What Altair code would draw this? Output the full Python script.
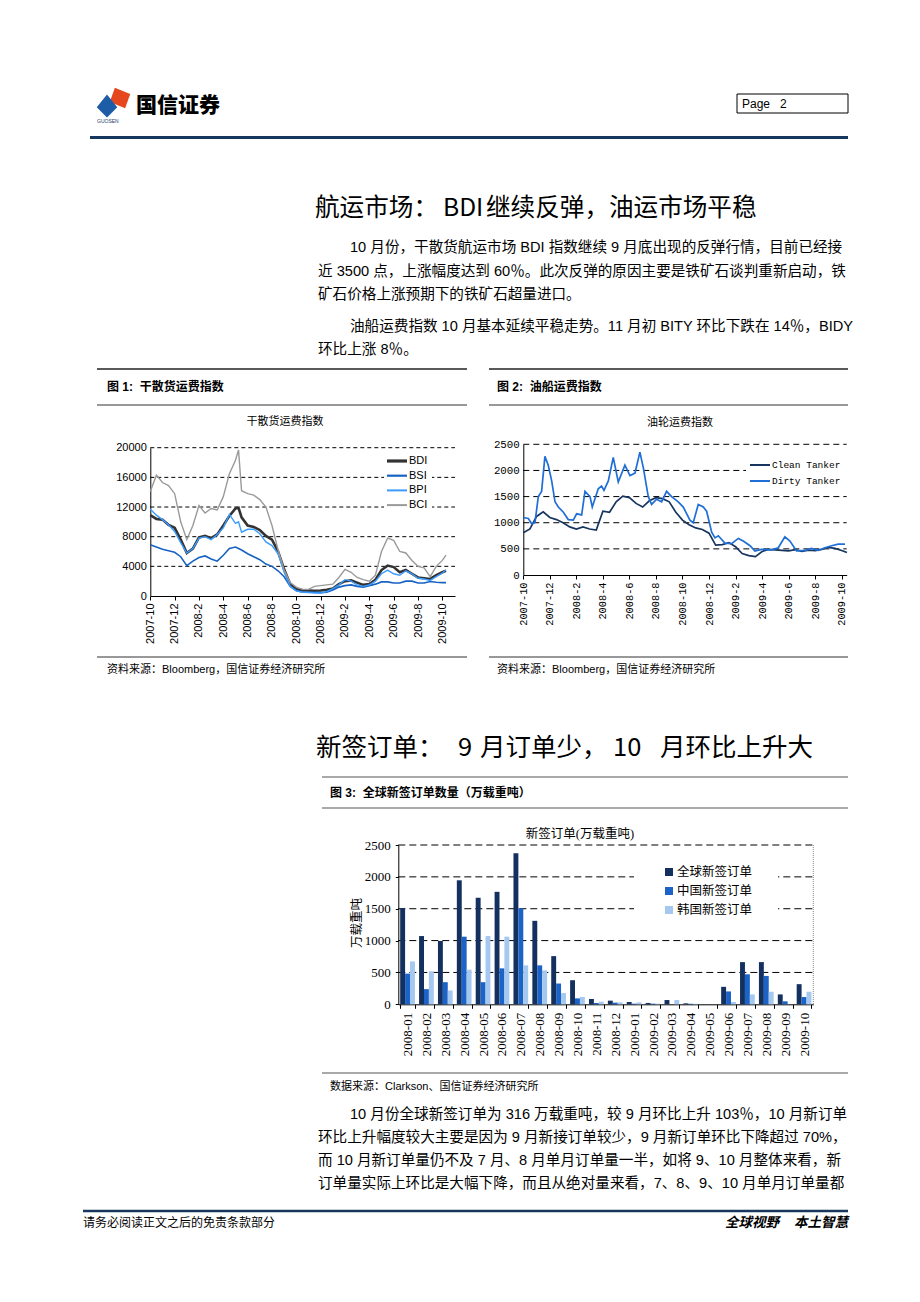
import altair as alt
import pandas as pd

# ---------------- data: figure 1 (dry bulk indices, month index from 2007-10) ----------------
dry_t = [0, 0.5, 1, 1.5, 2, 2.5, 3, 3.5, 4, 4.5, 5, 5.5, 6, 6.5, 7, 7.25, 7.5, 8, 8.5, 9, 9.5,
         10, 10.5, 11, 11.5, 12, 12.5, 13, 13.5, 14, 14.5, 15, 15.5, 16, 16.5, 17, 17.5, 18, 18.5,
         19, 19.5, 20, 20.5, 21, 21.5, 22, 22.5, 23, 23.5, 24, 24.3]
bdi = [10900, 10400, 10300, 9600, 9200, 7600, 5800, 6400, 7900, 8100, 7800, 8300, 9500, 10800, 11800, 11900, 10600,
       9500, 9300, 8900, 8100, 7600, 6000, 3600, 1600, 900, 800, 750, 700, 750, 850, 1000, 1600, 2000, 2100,
       1800, 1500, 1600, 2200, 3500, 4100, 3900, 3200, 3500, 3000, 2500, 2400, 2300, 2800, 3200, 3400]
bsi = [6900, 6600, 6300, 6100, 5900, 5300, 4100, 4700, 5200, 5400, 5000, 4700, 5500, 6400, 6600, 6400, 6200,
       5700, 5300, 4900, 4300, 4000, 3400, 2600, 1300, 700, 550, 500, 500, 450, 500, 800, 1200, 1400, 1500,
       1300, 1200, 1400, 1600, 1900, 1900, 1750, 1750, 2000, 2000, 1750, 1750, 1950, 1850, 1800, 1800]
bpi = [11700, 10900, 10300, 9600, 8700, 7200, 5800, 6400, 7800, 8000, 7600, 8300, 9200, 11000, 9800, 10000, 8600,
       9000, 9000, 8400, 7300, 6800, 5700, 3200, 1300, 700, 500, 450, 400, 400, 600, 1000, 1500, 2200, 2000,
       1500, 1300, 1500, 2000, 3000, 3500, 3000, 2800, 3400, 3000, 2400, 2300, 2100, 2600, 3100, 3500]
bci = [14100, 16300, 15300, 14900, 13800, 10000, 7600, 9500, 12200, 11200, 11800, 11600, 13400, 16500, 18300, 19700, 14200,
       13800, 13600, 13000, 12000, 9500, 6200, 3500, 1800, 1200, 900, 900, 1300, 1400, 1500, 1600, 2500, 3600, 3200,
       2500, 2200, 2000, 2800, 6000, 7800, 7500, 6000, 5800, 4800, 4000, 3800, 2600, 4000, 4800, 5500]
dry_names = ["BDI", "BSI", "BPI", "BCI"]
dry_colors = ["#333333", "#1763c4", "#3b9cff", "#9a9a9a"]
dry_widths = [2.6, 1.6, 1.4, 1.4]
dry_ticks = [0, 4000, 8000, 12000, 16000, 20000]

# ---------------- data: figure 2 (tanker indices) ----------------
clean_t = [0, 0.5, 1, 1.5, 2, 2.5, 3, 3.5, 4, 4.5, 5, 5.5, 6, 6.5, 7, 7.5, 8, 8.5, 9, 9.5, 10, 10.5,
           11, 11.5, 12, 12.5, 13, 13.5, 14, 14.5, 15, 15.5, 16, 16.5, 17, 17.5, 18, 18.5, 19, 19.5,
           20, 20.5, 21, 21.5, 22, 22.5, 23, 23.5, 24, 24.4]
clean = [810, 880, 1120, 1210, 1100, 1060, 1000, 920, 880, 920, 880, 860, 1220, 1200, 1400, 1510, 1480, 1370,
         1300, 1420, 1480, 1460, 1400, 1200, 1050, 960, 900, 870, 800, 570, 580, 620, 540, 410, 370, 350,
         450, 490, 480, 470, 460, 485, 450, 475, 465, 490, 530, 510, 470, 430]
dirty_t = [0, 0.38, 0.63, 0.88, 1.13, 1.38, 1.63, 1.88, 2.14, 2.39, 2.64, 3.02, 3.39, 3.77, 4.02, 4.4, 4.65,
           5.03, 5.2, 5.65, 5.9, 6.08, 6.41, 6.78, 7.16, 7.66, 8.04, 8.42, 8.79, 9.05, 9.42, 9.67, 10.05,
           10.43, 10.8, 11.18, 11.68, 12.06, 12.56, 12.81, 13.19, 13.57, 13.82, 14.2, 14.45, 14.7, 15.2,
           15.7, 16.21, 16.58, 17.09, 17.46, 17.96, 18.72, 19.22, 19.72, 20.1, 20.6, 21.23, 21.73, 22.24,
           22.74, 23.24, 23.74, 24.25]
dirty = [1100, 1080, 980, 1000, 1500, 1600, 2270, 2100, 1800, 1400, 1300, 1200, 1060, 1050, 1170, 1150, 1600,
         1500, 1300, 1650, 1700, 1620, 1800, 2250, 1780, 2100, 1900, 1950, 2350, 2050, 1500, 1350, 1450,
         1400, 1600, 1500, 1400, 1300, 1050, 1000, 1350, 1300, 1220, 820, 710, 750, 610,
         600, 700, 650, 560, 460, 490, 480, 520, 730, 650, 460, 470, 510, 470,
         520, 560, 590, 590]
tank_names = ["Clean Tanker", "Dirty Tanker"]
tank_colors = ["#17355f", "#1f6fd6"]
tank_ticks = [0, 500, 1000, 1500, 2000, 2500]
month_ticks = [0, 2, 4, 6, 8, 10, 12, 14, 16, 18, 20, 22, 24]

# ---------------- data: figure 3 (new orders, 万载重吨) ----------------
order_months = ["2008-01", "2008-02", "2008-03", "2008-04", "2008-05", "2008-06", "2008-07", "2008-08",
                "2008-09", "2008-10", "2008-11", "2008-12", "2009-01", "2009-02", "2009-03", "2009-04",
                "2009-05", "2009-06", "2009-07", "2009-08", "2009-09", "2009-10"]
order_global = [1510, 1071, 994, 1946, 1672, 1765, 2371, 1310, 756, 378, 83, 57, 36, 21, 67, 15, 0, 274, 662, 662, 155, 316]
order_china = [481, 238, 347, 1061, 347, 564, 1506, 611, 326, 93, 20, 26, 10, 10, 0, 8, 0, 202, 471, 445, 47, 114]
order_korea = [673, 518, 217, 543, 1071, 1061, 611, 533, 176, 114, 41, 31, 31, 10, 67, 8, 0, 36, 155, 197, 0, 197]
order_names = ["全球新签订单", "中国新签订单", "韩国新签订单"]
order_colors = ["#14305f", "#1b63c6", "#a4c8f0"]
order_ticks = [0, 500, 1000, 1500, 2000, 2500]

# ---------------- layout helpers ----------------
OX, OY = 8, 8
W, H = 904, 1286
CJK = "Liberation Sans, Noto Sans CJK SC"
SERIF = "Liberation Serif, Noto Sans CJK SC"
MONO = "Liberation Mono, Noto Sans CJK SC"
NAVY = "#17375e"
NB = "\u00a0"


def X(x):
    return x - OX


def Y(y):
    return y - OY


dummy = pd.DataFrame({"d": [0]})


def txt(x, y, s, size=12, font=CJK, weight="normal", align="left", baseline="middle",
        color="#000000", angle=None, style=None):
    kw = dict(text=s, fontSize=size, font=font, fontWeight=weight, align=align,
              baseline=baseline, color=color)
    if angle is not None:
        kw["angle"] = angle
    if style:
        kw["fontStyle"] = style
    return alt.Chart(dummy).mark_text(**kw).encode(x=alt.value(X(x)), y=alt.value(Y(y)))


def rule(x1, y1, x2, y2, color="#000000", w=1.0, dash=None):
    kw = dict(color=color, strokeWidth=w)
    if dash:
        kw["strokeDash"] = dash
    return alt.Chart(dummy).mark_rule(**kw).encode(
        x=alt.value(X(x1)), x2=alt.value(X(x2)), y=alt.value(Y(y1)), y2=alt.value(Y(y2)))


def box(x1, y1, x2, y2, fill="#ffffff", stroke=None, w=1.0):
    kw = dict(fill=fill)
    if stroke:
        kw["stroke"] = stroke
        kw["strokeWidth"] = w
    return alt.Chart(dummy).mark_rect(**kw).encode(
        x=alt.value(X(x1)), x2=alt.value(X(x2)), y=alt.value(Y(y1)), y2=alt.value(Y(y2)))


month_label = "(2007 + floor((datum.value + 9) / 12)) + '-' + ((datum.value + 9) % 12 + 1)"

# ---------------- figure 1 ----------------
c1L, c1R, c1T, c1B = 150.3, 455, 447.7, 596
sx1 = alt.Scale(domain=[0, 25.04], range=[X(c1L), X(c1R)], nice=False, zero=False)
sy1 = alt.Scale(domain=[0, 20000], range=[Y(c1B), Y(c1T)], nice=False)
ax1 = alt.Axis(orient="bottom", offset=Y(c1B) - H, values=month_ticks, labelExpr=month_label,
               labelAngle=270, labelAlign="right", labelBaseline="middle", labelFont="Liberation Sans",
               labelFontSize=11, labelColor="#000", labelPadding=3, domainColor="#000", tickColor="#000",
               tickSize=4, grid=False, title=None, labelOverlap=False)
ay1 = alt.Axis(orient="left", offset=-X(c1L), values=dry_ticks, format="d", labelFont="Liberation Sans",
               labelFontSize=11, labelColor="#000", labelPadding=4, domainColor="#000", tickSize=0,
               grid=False, title=None, labelOverlap=False)
EX1 = alt.X("t:Q", scale=sx1, axis=ax1)
EY1 = alt.Y("v:Q", scale=sy1, axis=ay1)

grid1 = alt.Chart(pd.DataFrame({"v": dry_ticks[1:]})).mark_rule(
    color="#000", strokeWidth=1, strokeDash=[4, 3]).encode(
    y=EY1, x=alt.value(X(c1L)), x2=alt.value(X(c1R)))
c1_layers = [grid1, box(384, 452, 432, 513)]
for name, vals, col, wd in zip(dry_names, [bdi, bsi, bpi, bci], dry_colors, dry_widths):
    df = pd.DataFrame({"t": dry_t, "v": vals})
    c1_layers.append(alt.Chart(df).mark_line(color=col, strokeWidth=wd).encode(x=EX1, y=EY1))
for i, (name, col, wd) in enumerate(zip(dry_names, dry_colors, dry_widths)):
    yy = 461 + i * 14.7
    c1_layers.append(rule(387, yy, 407, yy, color=col, w=wd + 0.6))
    c1_layers.append(txt(409, yy, name, size=11, font="Liberation Sans"))
fig1 = alt.layer(*c1_layers)

# ---------------- figure 2 ----------------
c2L, c2R, c2T, c2B = 523.3, 846.7, 444.3, 575
sx2 = alt.Scale(domain=[0, 24.38], range=[X(c2L), X(c2R)], nice=False, zero=False)
sy2 = alt.Scale(domain=[0, 2500], range=[Y(c2B), Y(c2T)], nice=False)
ax2 = alt.Axis(orient="bottom", offset=Y(c2B) - H, values=month_ticks, labelExpr=month_label,
               labelAngle=270, labelAlign="right", labelBaseline="middle", labelFont=MONO,
               labelFontSize=10.3, labelColor="#000", labelPadding=3, domainColor="#000", tickColor="#000",
               tickSize=4, grid=False, title=None, labelOverlap=False)
ay2 = alt.Axis(orient="left", offset=-X(c2L), values=tank_ticks, format="d", labelFont=MONO,
               labelFontSize=10.8, labelColor="#000", labelPadding=4, domainColor="#000", tickSize=0,
               grid=False, title=None, labelOverlap=False)
EX2 = alt.X("t:Q", scale=sx2, axis=ax2)
EY2 = alt.Y("v:Q", scale=sy2, axis=ay2)
grid2 = alt.Chart(pd.DataFrame({"v": tank_ticks[1:]})).mark_rule(
    color="#000", strokeWidth=1, strokeDash=[6, 4]).encode(
    y=EY2, x=alt.value(X(c2L)), x2=alt.value(X(c2R)))
c2_layers = [grid2, box(746, 455, 847, 490)]
for name, tt, vals, col in zip(tank_names, [clean_t, dirty_t], [clean, dirty], tank_colors):
    df = pd.DataFrame({"t": tt, "v": vals})
    c2_layers.append(alt.Chart(df).mark_line(color=col, strokeWidth=1.7).encode(x=EX2, y=EY2))
for i, (name, col) in enumerate(zip(tank_names, tank_colors)):
    yy = 465 + i * 16
    c2_layers.append(rule(750, yy, 770, yy, color=col, w=2))
    c2_layers.append(txt(772, yy, name, size=9.5, font=MONO))
fig2 = alt.layer(*c2_layers)

# ---------------- figure 3 ----------------
c3L, c3R, c3T, c3B = 398.3, 813.3, 845, 1004.3
sx3 = alt.Scale(domain=order_months, range=[X(c3L), X(c3R)], paddingInner=0.22, paddingOuter=0.1)
sy3 = alt.Scale(domain=[0, 2500], range=[Y(c3B), Y(c3T)], nice=False)
ax3 = alt.Axis(orient="bottom", offset=Y(c3B) - H, labelAngle=270, labelAlign="right",
               labelBaseline="middle", labelFont=SERIF, labelFontSize=13, labelColor="#000",
               labelPadding=4, domainColor="#000", tickColor="#000", tickSize=4, tickBand="extent",
               grid=False, title=None, labelOverlap=False)
ay3 = alt.Axis(orient="left", offset=-X(c3L), values=order_ticks, format="d", labelFont=SERIF,
               labelFontSize=13, labelColor="#000", labelPadding=5, domainColor="#000", tickColor="#000",
               tickSize=3, grid=False, title=None, labelOverlap=False)
EY3 = alt.Y("v:Q", scale=sy3, axis=ay3)
grid3 = alt.Chart(pd.DataFrame({"v": order_ticks[1:]})).mark_rule(
    color="#000", strokeWidth=1, strokeDash=[7, 4]).encode(
    y=EY3, x=alt.value(X(c3L)), x2=alt.value(X(c3R)))
rows = []
for name, vals in zip(order_names, [order_global, order_china, order_korea]):
    for m, v in zip(order_months, vals):
        rows.append({"m": m, "s": name, "v": v})
df3 = pd.DataFrame(rows)
bars3 = alt.Chart(df3).mark_bar().encode(
    x=alt.X("m:N", scale=sx3, axis=ax3, sort=order_months),
    xOffset=alt.XOffset("s:N", scale=alt.Scale(domain=order_names), sort=order_names),
    y=EY3,
    color=alt.Color("s:N", scale=alt.Scale(domain=order_names, range=order_colors), legend=None))
c3_layers = [grid3, rule(c3R, c3T, c3R, c3B, color="#888888", w=1, dash=[1, 1]),
             box(634, 859, 778, 921), bars3]
for i, (name, col) in enumerate(zip(order_names, order_colors)):
    yy = 872 + i * 19
    c3_layers.append(box(665, yy - 4, 673, yy + 4, fill=col))
    c3_layers.append(txt(677, yy, name, size=12.5, font=SERIF))
fig3 = alt.layer(*c3_layers)

# ---------------- page furniture ----------------
logo_red = "M -0.5 -1 L 1 -0.4 L 0.5 1 L -1 0.4 Z"
logo_blue = "M 0 -1 L 0.9 0.1 L 0 1 L -0.9 0.1 Z"
HF = "Noto Sans CJK SC"
page = [
    alt.Chart(dummy).mark_point(shape=logo_red, filled=True, size=420, color="#e5481f", opacity=1).encode(
        x=alt.value(X(120)), y=alt.value(Y(98))),
    alt.Chart(dummy).mark_point(shape=logo_blue, filled=True, size=520, color="#1d5ca6", opacity=1).encode(
        x=alt.value(X(107)), y=alt.value(Y(106))),
    txt(97, 121, "GUOSEN", size=5, color="#1d3c6e", font="Liberation Sans"),
    txt(136, 106, "国信证券", size=21, weight=900, font=HF),
    box(737, 94, 848, 113, fill="#ffffff", stroke="#000000", w=1),
    txt(742, 104, "Page" + NB * 3 + "2", size=12, font="Liberation Sans"),
    rule(90, 137.5, 848, 137.5, color=NAVY, w=3),

    txt(315, 209, "航运市场：", size=24.6, font=HF),
    txt(443, 209, "BDI", size=24.6, font=HF),
    txt(486, 209, "继续反弹，油运市场平稳", size=24.6, font=HF),
    txt(350, 248, "10 月份，干散货航运市场 BDI 指数继续 9 月底出现的反弹行情，目前已经接", size=14.6),
    txt(318, 272, "近 3500 点，上涨幅度达到 60％。此次反弹的原因主要是铁矿石谈判重新启动，铁", size=14.6),
    txt(318, 295, "矿石价格上涨预期下的铁矿石超量进口。", size=14.6),
    txt(350, 327, "油船运费指数 10 月基本延续平稳走势。11 月初 BITY 环比下跌在 14％，BIDY", size=14.6),
    txt(318, 350, "环比上涨 8％。", size=14.6),

    rule(97, 369, 467, 369, color="#222222", w=1.5),
    rule(489, 369, 848, 369, color="#222222", w=1.5),
    txt(107, 387, "图 1:" + NB * 2 + "干散货运费指数", size=12, weight="bold"),
    txt(497, 387, "图 2:" + NB * 2 + "油船运费指数", size=12, weight="bold"),
    rule(97, 405, 467, 405, color="#333333", w=1.2),
    rule(489, 405, 848, 405, color="#333333", w=1.2),
    txt(285, 422, "干散货运费指数", size=11, align="center", font=SERIF),
    txt(680, 423, "油轮运费指数", size=11, align="center", font=SERIF),
    rule(97, 657, 467, 657, color="#333333", w=1.2),
    rule(489, 657, 848, 657, color="#333333", w=1.2),
    txt(107, 670, "资料来源：Bloomberg，国信证券经济研究所", size=11),
    txt(497, 670, "资料来源：Bloomberg，国信证券经济研究所", size=11),

    txt(316, 748, "新签订单：", size=25.5, font=HF),
    txt(458, 748, "9", size=25.5, font=HF),
    txt(480, 748, "月订单少，", size=25.5, font=HF),
    txt(613, 748, "10", size=25.5, font=HF),
    txt(660, 748, "月环比上升大", size=25.5, font=HF),
    rule(322, 777, 848, 777, color="#555555", w=1.2),
    txt(330, 793, "图 3:" + NB * 2 + "全球新签订单数量（万载重吨）", size=12, weight="bold"),
    rule(322, 808, 848, 808, color="#555555", w=1.2),
    txt(580, 834, "新签订单(万载重吨)", size=12.5, align="center", font=SERIF),
    txt(357, 923, "万载重吨", size=12.5, align="center", font=SERIF, angle=270),
    rule(322, 1073, 848, 1073, color="#555555", w=1.2),
    txt(330, 1087, "数据来源：Clarkson、国信证券经济研究所", size=11),

    txt(350, 1115, "10 月份全球新签订单为 316 万载重吨，较 9 月环比上升 103％，10 月新订单", size=14.6),
    txt(318, 1138, "环比上升幅度较大主要是因为 9 月新接订单较少，9 月新订单环比下降超过 70%，", size=14.6),
    txt(318, 1161, "而 10 月新订单量仍不及 7 月、8 月单月订单量一半，如将 9、10 月整体来看，新", size=14.6),
    txt(318, 1184, "订单量实际上环比是大幅下降，而且从绝对量来看，7、8、9、10 月单月订单量都", size=14.6),

    rule(83, 1211, 848, 1211, color=NAVY, w=2.5),
    txt(83, 1223, "请务必阅读正文之后的免责条款部分", size=12),
    txt(848, 1223, "全球视野" + NB * 4 + "本土智慧", size=13.5, weight="bold", style="italic", align="right"),
]

chart = alt.layer(*page, fig1, fig2, fig3).resolve_scale(
    x="independent", y="independent", color="independent"
).resolve_axis(
    x="independent", y="independent"
).properties(
    width=W, height=H, padding=0, background="#ffffff",
    autosize=alt.AutoSizeParams(type="none")
).configure_view(stroke=None)

chart.save("out.html", embed_options={"renderer": "svg", "actions": False})
